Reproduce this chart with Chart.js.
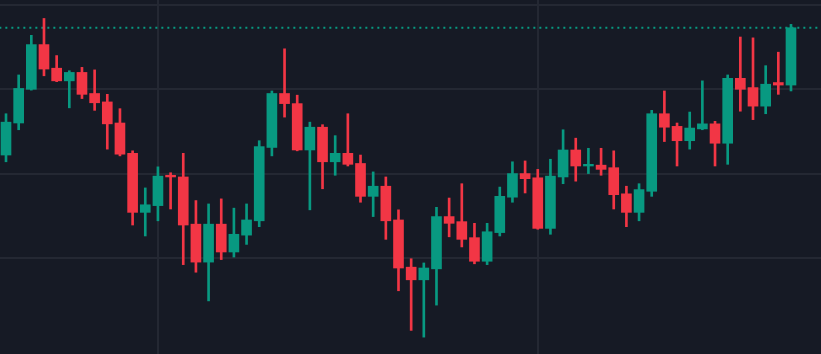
<!DOCTYPE html>
<html>
<head>
<meta charset="utf-8">
<script src="https://cdn.jsdelivr.net/npm/chart.js@4.4.1/dist/chart.umd.min.js"></script>
<style>
  html, body { margin: 0; padding: 0; background: #161a25; }
  #wrap { width: 821px; height: 354px; }
</style>
</head>
<body>
<div id="wrap"><canvas id="candles"></canvas></div>
<script>
const opens  = [102.2,106.0,110.0,115.3,112.5,111.0,112.0,109.5,108.5,106.0,102.4,95.4,96.2,99.8,99.6,94.0,89.5,94.0,90.7,92.7,94.4,103.1,109.5,108.3,102.8,105.5,101.4,102.4,101.2,97.3,98.5,94.5,88.9,87.4,88.7,94.9,94.3,92.4,89.6,93.0,97.2,100.0,99.5,93.5,99.6,102.8,100.9,101.0,100.7,97.6,95.4,97.9,107.1,105.6,103.9,105.3,105.9,103.6,111.3,110.2,108.0,110.8,110.5];
const highs  = [107.1,111.7,116.4,118.4,114.0,112.2,112.6,112.3,109.4,107.7,102.7,98.3,100.8,100.1,102.4,96.8,96.4,97.0,95.9,96.4,103.9,109.8,114.8,109.3,106.1,105.8,104.5,107.1,102.2,100.2,99.6,95.7,89.9,89.4,96.0,97.1,98.8,94.1,94.1,98.4,101.4,101.5,100.5,101.7,105.2,104.2,103.0,103.0,102.7,98.5,98.8,107.5,109.8,106.0,107.3,111.0,106.2,111.7,116.2,116.1,112.8,114.4,117.7];
const lows   = [101.4,105.2,109.9,111.6,110.9,107.8,108.9,107.5,102.9,102.1,93.9,92.6,94.4,95.8,89.2,88.3,84.9,89.8,90.1,91.6,93.7,102.1,106.7,102.7,95.7,98.2,99.8,100.9,96.6,94.9,92.2,86.1,81.4,80.6,84.4,92.5,91.3,89.3,89.2,92.6,96.6,97.7,93.4,92.8,98.8,99.1,100.0,99.8,95.8,93.7,94.4,97.3,103.8,100.9,102.9,105.2,100.9,101.1,107.4,106.4,107.1,109.4,109.8];
const closes = [106.1,110.1,115.3,112.4,111.0,112.0,109.4,108.4,105.9,102.3,95.4,96.3,99.7,99.6,93.9,89.5,94.0,90.7,92.8,94.5,103.2,109.5,108.3,102.8,105.5,101.4,102.4,101.1,97.3,98.5,94.4,88.8,87.4,88.8,94.9,94.1,92.2,89.6,93.1,97.3,100.0,99.4,93.5,99.7,102.8,100.9,101.1,100.5,97.5,95.4,98.1,107.1,105.5,103.9,105.4,105.9,103.6,111.3,110.0,108.0,110.6,110.5,117.3];
const priceGrid = [90, 100, 110, 120];
const timeGrid = [12, 42];

const up = '#089981';
const down = '#f23645';
const colors = opens.map((o, i) => closes[i] >= o ? up : down);
const wicks = opens.map((o, i) => ({ x: i, y: [lows[i], highs[i]] }));
const bodies = opens.map((o, i) => ({ x: i, y: [o, closes[i]] }));
const last = closes[closes.length - 1];

const ctx = document.getElementById('candles').getContext('2d');
new Chart(ctx, {
  type: 'bar',
  data: {
    datasets: [
      {
        type: 'line',
        data: [{ x: -1, y: last }, { x: 66, y: last }],
        borderColor: up,
        borderWidth: 2,
        borderDash: [2, 4],
        pointRadius: 0,
        order: 3
      },
      {
        data: wicks,
        backgroundColor: colors,
        barThickness: 2,
        grouped: false,
        order: 2
      },
      {
        data: bodies,
        backgroundColor: colors,
        barThickness: 10,
        grouped: false,
        order: 1
      }
    ]
  },
  options: {
    responsive: true,
    maintainAspectRatio: false,
    animation: false,
    layout: { padding: 0 },
    plugins: {
      legend: { display: false },
      tooltip: { enabled: false }
    },
    scales: {
      x: {
        type: 'linear',
        min: -0.474,
        max: 64.37,
        offset: false,
        afterBuildTicks: axis => { axis.ticks = timeGrid.map(v => ({ value: v })); },
        ticks: { display: false },
        border: { display: false },
        grid: { color: '#242833', lineWidth: 2, drawTicks: false, offset: false }
      },
      y: {
        min: 78.6,
        max: 120.59,
        afterBuildTicks: axis => { axis.ticks = priceGrid.map(v => ({ value: v })); },
        ticks: { display: false },
        border: { display: false },
        grid: { color: '#242833', lineWidth: 2, drawTicks: false }
      }
    }
  }
});
</script>
</body>
</html>
